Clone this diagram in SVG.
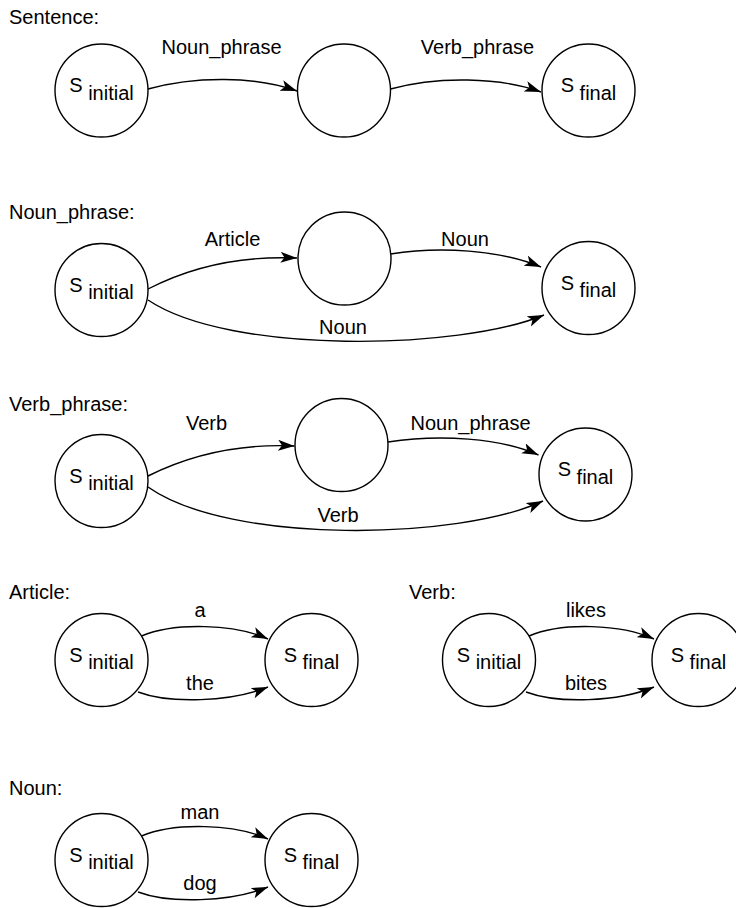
<svg xmlns="http://www.w3.org/2000/svg" width="736" height="908" viewBox="0 0 736 908">
<style>
text { font-family: "Liberation Sans", Arial, sans-serif; font-size: 20px; fill: #000; }
.lbl { text-anchor: middle; }
.st { text-anchor: middle; }
circle { fill: #fff; stroke: #000; stroke-width: 1.4; }
.edge { fill: none; stroke: #000; stroke-width: 1.4; marker-end: url(#arr); }
</style>
<defs>
<marker id="arr" markerUnits="userSpaceOnUse" viewBox="0 0 18 12" markerWidth="18" markerHeight="12" refX="16.5" refY="5.5" orient="auto">
<path d="M0,0 L16.5,5.5 L0,11 L4,5.5 Z" fill="#000"/>
</marker>
</defs>

<!-- Section titles -->
<text x="9" y="24">Sentence:</text>
<text x="9" y="219">Noun_phrase:</text>
<text x="9" y="411">Verb_phrase:</text>
<text x="9" y="599">Article:</text>
<text x="409" y="599">Verb:</text>
<text x="9" y="795">Noun:</text>

<!-- Sentence -->
<g id="sent_initial"><circle cx="101.5" cy="90.5" r="46.5"/><text class="st" x="101.5" y="92">S <tspan dy="7.5">initial</tspan></text></g>
<g id="sent_mid"><circle cx="344" cy="90.5" r="46.5"/></g>
<g id="sent_final"><circle cx="588.5" cy="90.5" r="46.5"/><text class="st" x="588.5" y="92">S <tspan dy="7.5">final</tspan></text></g>

<!-- Noun_phrase -->
<g id="np_initial"><circle cx="101.5" cy="290" r="46.5"/><text class="st" x="101.5" y="291.5">S <tspan dy="7.5">initial</tspan></text></g>
<g id="np_mid"><circle cx="344.5" cy="258.5" r="46.5"/></g>
<g id="np_final"><circle cx="588.5" cy="288" r="46.5"/><text class="st" x="588.5" y="289.5">S <tspan dy="7.5">final</tspan></text></g>

<!-- Verb_phrase -->
<g id="vp_initial"><circle cx="101.5" cy="481" r="46.5"/><text class="st" x="101.5" y="482.5">S <tspan dy="7.5">initial</tspan></text></g>
<g id="vp_mid"><circle cx="341.5" cy="445" r="46.5"/></g>
<g id="vp_final"><circle cx="585.5" cy="474.5" r="46.5"/><text class="st" x="585.5" y="476">S <tspan dy="7.5">final</tspan></text></g>

<!-- Article -->
<g id="art_initial"><circle cx="101.5" cy="660" r="46.5"/><text class="st" x="101.5" y="661.5">S <tspan dy="7.5">initial</tspan></text></g>
<g id="art_final"><circle cx="311.5" cy="660" r="46.5"/><text class="st" x="311.5" y="661.5">S <tspan dy="7.5">final</tspan></text></g>

<!-- Verb -->
<g id="verb_initial"><circle cx="489" cy="660" r="46.5"/><text class="st" x="489" y="661.5">S <tspan dy="7.5">initial</tspan></text></g>
<g id="verb_final"><circle cx="698.5" cy="660" r="46.5"/><text class="st" x="698.5" y="661.5">S <tspan dy="7.5">final</tspan></text></g>

<!-- Noun -->
<g id="noun_initial"><circle cx="101.5" cy="860" r="46.5"/><text class="st" x="101.5" y="861.5">S <tspan dy="7.5">initial</tspan></text></g>
<g id="noun_final"><circle cx="311.5" cy="860" r="46.5"/><text class="st" x="311.5" y="861.5">S <tspan dy="7.5">final</tspan></text></g>

<g id="connectors">
<!-- Sentence -->
<path class="edge" d="M148,89 C195,76 255,76 297,91"/>
<text class="lbl" x="221.5" y="54">Noun_phrase</text>
<path class="edge" d="M390.5,89 C437,76 500,77 541,92"/>
<text class="lbl" x="477.5" y="54">Verb_phrase</text>

<!-- Noun_phrase -->
<path class="edge" d="M148,289 C200,262 250,256 297,258"/>
<text class="lbl" x="232.5" y="246">Article</text>
<path class="edge" d="M390.5,254 C440,246 500,250 541,267"/>
<text class="lbl" x="465" y="246">Noun</text>
<path class="edge" d="M148,300 C230,355 460,350 544,315"/>
<text class="lbl" x="343" y="334">Noun</text>

<!-- Verb_phrase -->
<path class="edge" d="M148,476 C200,450 250,444 294.5,446"/>
<text class="lbl" x="206.5" y="430">Verb</text>
<path class="edge" d="M388,442 C440,434 500,438 538.5,455"/>
<text class="lbl" x="470.5" y="430">Noun_phrase</text>
<path class="edge" d="M148,487 C230,545 460,540 543,501"/>
<text class="lbl" x="338" y="522">Verb</text>

<!-- Article -->
<path class="edge" d="M141.5,636 C175,622 235,624 268,639"/>
<text class="lbl" x="200" y="617">a</text>
<path class="edge" d="M138,692 C170,704 230,702 268,687"/>
<text class="lbl" x="200" y="690">the</text>

<!-- Verb -->
<path class="edge" d="M529,636 C562,622 621,624 654,639"/>
<text class="lbl" x="586" y="617">likes</text>
<path class="edge" d="M526,692 C558,704 618,702 654,687"/>
<text class="lbl" x="586" y="690">bites</text>

<!-- Noun -->
<path class="edge" d="M141.5,836 C175,822 235,824 268,839"/>
<text class="lbl" x="200" y="819">man</text>
<path class="edge" d="M138,892 C170,904 230,902 268,887"/>
<text class="lbl" x="200" y="890">dog</text>
</g>
</svg>
